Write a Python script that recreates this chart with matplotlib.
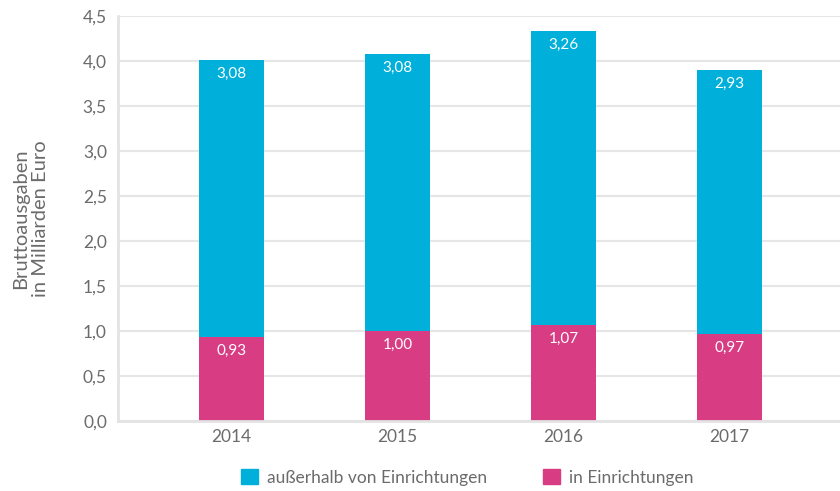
import matplotlib.pyplot as plt
from matplotlib.patches import Patch

plt.rcParams['font.family'] = ['Lato', 'DejaVu Sans']

years = ['2014', '2015', '2016', '2017']
in_einrichtungen = [0.93, 1.00, 1.07, 0.97]
ausserhalb = [3.08, 3.08, 3.26, 2.93]

cyan = '#00B0DB'
magenta = '#D83D84'
grey_text = '#6b6b6b'

fig = plt.figure(figsize=(8.4, 4.91), dpi=100)
ax = fig.add_axes([0.1405, 0.1426, 0.8595, 0.8248])

x = range(len(years))
width = 0.39
ax.bar(x, in_einrichtungen, width, color=magenta, zorder=2)
ax.bar(x, ausserhalb, width, bottom=in_einrichtungen, color=cyan, zorder=2)

def fmt(v):
    return f'{v:.2f}'.replace('.', ',')

for i in x:
    ax.annotate(fmt(in_einrichtungen[i]), (i, in_einrichtungen[i]), xytext=(0, -5),
                textcoords='offset points', ha='center', va='top', color='white', fontsize=11)
    top = in_einrichtungen[i] + ausserhalb[i]
    ax.annotate(fmt(ausserhalb[i]), (i, top), xytext=(0, -5),
                textcoords='offset points', ha='center', va='top', color='white', fontsize=11)

ax.set_xlim(-0.684, 3.666)
ax.set_ylim(0, 4.5)
yticks = [i * 0.5 for i in range(10)]
ax.set_yticks(yticks)
ax.set_yticklabels([f'{t:.1f}'.replace('.', ',') for t in yticks])
ax.set_xticks(list(x))
ax.set_xticklabels(years)
ax.tick_params(axis='both', length=0, colors=grey_text, labelsize=12.5)
ax.tick_params(axis='y', pad=8)
ax.tick_params(axis='x', pad=6)

ax.grid(axis='y', color='#e6e6e6', linewidth=1.5, zorder=0)
ax.set_axisbelow(True)
for s in ['top', 'right']:
    ax.spines[s].set_visible(False)
for s in ['left', 'bottom']:
    ax.spines[s].set_color('#e3e3e3')
    ax.spines[s].set_linewidth(2)

ax.set_ylabel('Bruttoausgaben\nin Milliarden Euro', color=grey_text, fontsize=14.5, labelpad=24,
              linespacing=1.25)

handles = [Patch(color=cyan, label='außerhalb von Einrichtungen'),
           Patch(color=magenta, label='in Einrichtungen')]
fig.legend(handles=handles, loc='center', bbox_to_anchor=(0.556, 0.028), ncol=2, frameon=False,
           fontsize=12.5, labelcolor=grey_text, handlelength=1.0, handleheight=1.0,
           handletextpad=0.5, columnspacing=3.2)

fig.savefig('out.png', dpi=100)
